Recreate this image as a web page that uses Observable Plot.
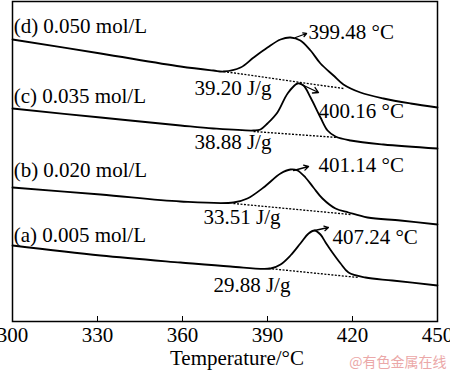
<!DOCTYPE html>
<html>
<head>
<meta charset="utf-8">
<script src="https://cdn.jsdelivr.net/npm/d3@7"></script>
<script src="https://cdn.jsdelivr.net/npm/@observablehq/plot@0.6"></script>
<style>
  html, body { margin: 0; padding: 0; background: #fff; }
  svg { display: block; }
</style>
</head>
<body>
<div id="chart"></div>
<script>
// Temperature ticks
const xTicks = [300, 330, 360, 390, 420, 450];

// DSC curves: [temperature °C, heat flow (arb. units)]
const curveD = [[300.0,28.2],[331.1,26.8],[359.3,25.5],[370.9,25.1],[374.5,25.0],[380.5,25.4],[385.1,26.4],[390.0,27.4],[394.6,28.2],[398.1,28.4],[401.6,28.1],[405.2,27.1],[408.7,25.8],[413.3,24.6],[416.8,23.7],[422.8,22.9],[430.9,22.3],[440.5,21.8],[450.0,21.4]];
const curveC = [[300.0,21.3],[331.1,20.4],[359.3,19.6],[370.9,19.3],[385.1,19.1],[387.5,19.2],[390.0,19.8],[393.5,20.9],[397.1,22.8],[400.6,23.8],[402.7,23.6],[405.2,22.4],[408.7,20.4],[411.2,19.1],[414.0,18.5],[419.3,18.1],[430.9,17.7],[450.0,17.3]];
const curveB = [[300.0,13.4],[331.1,12.7],[359.3,12.0],[378.0,11.9],[382.9,12.3],[388.6,13.4],[394.6,14.8],[398.1,15.2],[400.6,15.1],[403.4,14.4],[406.2,13.4],[409.4,12.3],[414.0,11.3],[418.6,10.9],[425.3,10.4],[436.9,10.1],[450.0,9.7]];
const curveA = [[300.0,7.6],[331.1,6.6],[359.3,5.9],[376.9,5.5],[391.1,5.3],[394.6,5.7],[398.1,6.6],[401.6,7.8],[404.5,8.8],[406.6,9.1],[408.7,8.7],[410.5,7.9],[412.9,6.9],[415.8,5.8],[418.6,4.9],[424.6,4.4],[434.1,4.1],[450.0,3.6]];

// Integration baselines [x1, y1, x2, y2]
const baselines = [
  [374.5,25.0,416.8,23.3],
  [385.1,19.0,414.7,18.4],
  [378.0,11.8,419.3,10.7],
  [390.4,5.3,422.1,4.4]
];

// Arrows to peak temperature labels [x1, y1, x2, y2]
const arrows = [
  [399.9,28.4,403.8,28.8],
  [401.3,23.8,408.0,22.9],
  [399.2,15.1,404.5,15.5],
  [406.6,9.1,411.5,9.4]
];

// Peak temperature labels
const peakLabels = ["399.48 °C", "400.16 °C", "401.14 °C", "407.24 °C"];
const peakAt = [[404.5,28.9],[408.0,21.0],[408.0,15.6],[412.9,8.4]];

// Enthalpy labels
const enthalpyLabels = ["39.20 J/g", "38.88 J/g", "33.51 J/g", "29.88 J/g"];
const enthalpyAt = [[364.2,23.3],[364.2,17.9],[367.4,10.4],[370.9,3.6]];

// Series labels
const seriesLabels = ["(d) 0.050 mol/L", "(c) 0.035 mol/L", "(b) 0.020 mol/L", "(a) 0.005 mol/L"];
const seriesAt = [[300.4,29.5],[300.4,22.5],[300.4,15.1],[300.4,8.6]];

const font = "'Liberation Serif', 'Times New Roman', serif";
const fs = 21;

const lineOpts = {x: d => d[0], y: d => d[1], stroke: "#000", strokeWidth: 1.8, curve: "catmull-rom"};

const chart = Plot.plot({
  width: 450,
  height: 371,
  marginLeft: 12,
  marginRight: 13,
  marginTop: 1,
  marginBottom: 50,
  style: {fontFamily: font, fontSize: fs + "px", color: "#000", background: "#fff"},
  x: {domain: [300, 450]},
  y: {domain: [0, 32], axis: null},
  marks: [
    Plot.frame({stroke: "#000", strokeWidth: 1.5}),
    Plot.axisX({ticks: xTicks, tickSize: 5, dy: -5, text: null, strokeWidth: 1}),
    Plot.axisX({ticks: xTicks, tickSize: 0, tickPadding: 6, tickFormat: d => String(d), fontSize: fs, label: null}),
    Plot.text(["Temperature/°C"], {frameAnchor: "bottom", dy: 37, dx: 12, fontSize: fs, lineAnchor: "middle"}),
    Plot.line(curveD, lineOpts),
    Plot.line(curveC, lineOpts),
    Plot.line(curveB, lineOpts),
    Plot.line(curveA, lineOpts),
    Plot.link(baselines, {x1: d => d[0], y1: d => d[1], x2: d => d[2], y2: d => d[3], stroke: "#000", strokeWidth: 1.3, strokeDasharray: "2,1.5"}),
    Plot.arrow(arrows, {x1: d => d[0], y1: d => d[1], x2: d => d[2], y2: d => d[3], stroke: "#000", strokeWidth: 1.3, headLength: 7, bend: 0}),
    Plot.text(peakLabels, {x: (d, i) => peakAt[i][0], y: (d, i) => peakAt[i][1], text: d => d, textAnchor: "start", lineAnchor: "middle", fontSize: fs}),
    Plot.text(enthalpyLabels, {x: (d, i) => enthalpyAt[i][0], y: (d, i) => enthalpyAt[i][1], text: d => d, textAnchor: "start", lineAnchor: "middle", fontSize: fs}),
    Plot.text(seriesLabels, {x: (d, i) => seriesAt[i][0], y: (d, i) => seriesAt[i][1], text: d => d, textAnchor: "start", lineAnchor: "middle", fontSize: fs}),
    Plot.text(["@有色金属在线"], {frameAnchor: "bottom-right", dx: 9, dy: 41, textAnchor: "end", lineAnchor: "middle", fontSize: 14, fill: "#eba8a8", fontFamily: "'Noto Sans CJK SC', sans-serif"})
  ]
});
document.getElementById("chart").appendChild(chart);
</script>
</body>
</html>
